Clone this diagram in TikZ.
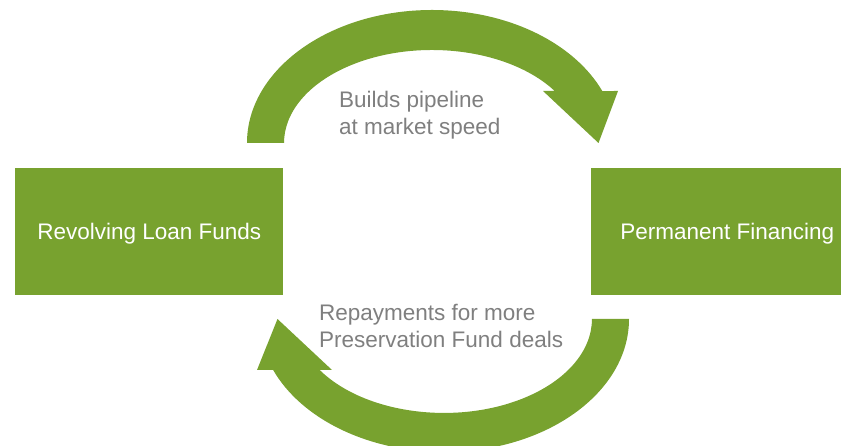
\documentclass[tikz,border=0pt]{standalone}
\usepackage{fontspec}
\setmainfont{Liberation Sans}
\definecolor{leaf}{HTML}{78A22F}
\definecolor{txtgray}{HTML}{7F7F7F}
\begin{document}
\begin{tikzpicture}[x=1pt,y=1pt,
  box/.style={fill=leaf, draw=none, inner sep=0pt, minimum height=127pt,
    text=white, text depth=0pt, font=\fontsize{22.5}{27}\selectfont, anchor=south west},
  lbl/.style={text=txtgray, align=left, inner sep=0pt,
    font=\fontsize{22.5}{27}\selectfont, anchor=base west},
  bigarrow/.style={fill=leaf, draw=none}]
\useasboundingbox (0,0) rectangle (841,446);
\node[box, minimum width=268pt] (rlf) at (15,151) {Revolving Loan Funds};
\node[box, minimum width=272pt] (pf) at (591,151) {Permanent Financing};
% top circular arrow
\fill[bigarrow] (247,303) arc[start angle=180, end angle=23.0, x radius=185, y radius=133]
  -- (618,355) -- (598.5,303) -- (543,355) -- (554.7,355)
  arc[start angle=34.0, end angle=180, x radius=148, y radius=93] -- cycle;
% bottom circular arrow
\fill[bigarrow] (629,127) arc[start angle=0, end angle=-157.45, x radius=185, y radius=133]
  -- (257,76) -- (277.5,127) -- (332,76) -- (319.7,76)
  arc[start angle=-147.1, end angle=0, x radius=148, y radius=94] -- cycle;
\node[lbl] (t1) at (339,311) {Builds pipeline\\at market speed};
\node[lbl] (t2) at (319,98.5) {Repayments for more\\Preservation Fund deals};
\end{tikzpicture}
\end{document}
